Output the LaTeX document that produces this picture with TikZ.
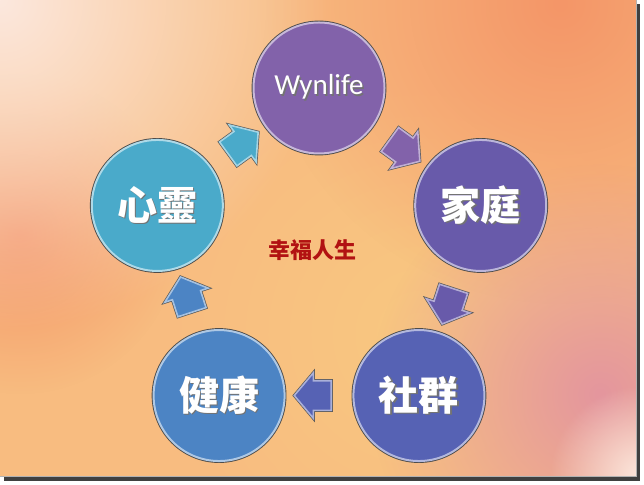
\documentclass[tikz,border=0pt]{standalone}
\usepackage{fontspec}
\setmainfont{Carlito}
\newfontfamily\cjk{Noto Sans CJK TC}
\usetikzlibrary{shapes,arrows,positioning,calc,shadings,fadings}
\usepackage{xcolor}

\definecolor{wynpurple}{RGB}{130,98,170}
\definecolor{familyviolet}{RGB}{104,90,170}
\definecolor{groupblue}{RGB}{86,98,180}
\definecolor{healthblue}{RGB}{76,132,196}
\definecolor{spiritteal}{RGB}{74,170,202}
\definecolor{titlered}{RGB}{178,18,18}
\definecolor{bgbase}{RGB}{248,188,128}
\definecolor{bgpale}{RGB}{252,232,222}
\definecolor{bgorange}{RGB}{244,150,104}
\definecolor{bgpink}{RGB}{228,150,158}
\definecolor{bgyellow}{RGB}{249,200,128}

\tikzfading[name=softspot, inner color=transparent!0, outer color=transparent!100]

% white text with a soft drop shadow
\newcommand{\shadowed}[1]{\rlap{\kern1.5pt\raisebox{-1.5pt}{\color{black!55}#1}}#1}

\begin{document}
\begin{tikzpicture}[
  x=1pt, y=1pt,
  ball/.style={circle, minimum size=131pt, inner sep=0pt, text=white,
    draw=white!55!#1, fill=#1, line width=2pt,
    preaction={draw=black!70, line width=3.8pt},
    font=\cjk\bfseries\fontsize{40}{44}\selectfont},
  blockarrow/.style={single arrow, fill=#1, draw=white!50!#1, line width=1.6pt,
    preaction={draw=black!65, line width=3pt},
    inner xsep=1pt, inner ysep=14pt, minimum height=37pt,
    single arrow head extend=8pt, single arrow tip angle=100},
  spot/.style={fill=#1, path fading=softspot}
]
  \useasboundingbox (0,0) rectangle (644,484);
  \fill[white] (0,0) rectangle (644,484);
  % frame shadow and background
  \fill[black!75] (4,3) rectangle (640,480);
  \begin{scope}
    \clip (0,8) rectangle (636,484);
    \fill[bgbase] (0,8) rectangle (636,484);
    \fill[spot=bgyellow] (420,150) circle (260);
    \fill[spot=bgorange] (560,480) circle (300);
    \fill[spot=bgorange] (20,250) circle (160);
    \fill[spot=bgpink] (600,90) circle (230);
    \fill[spot=bgpale] (0,484) circle (330);
    \fill[spot=bgpale] (640,8) circle (90);
  \end{scope}
  \draw[black!30, line width=0.8pt] (636,484) -- (636,8) -- (0,8);

  \coordinate (mid) at (319,226);

  \foreach \name/\txt/\col/\ang in {
      wyn/{\rmfamily\mdseries\fontsize{29}{32}\selectfont Wynlife}/wynpurple/90,
      family/家庭/familyviolet/18,
      group/社群/groupblue/-54,
      health/健康/healthblue/-126,
      spirit/心靈/spiritteal/162}
    \node[ball=\col] (\name) at ($(mid)+(\ang:170)$) {\shadowed{\txt}};

  \foreach \from/\to/\col/\dir in {
      spirit/wyn/spiritteal/36,
      wyn/family/wynpurple/-36,
      family/group/familyviolet/-108,
      group/health/groupblue/180,
      health/spirit/healthblue/108}
    \node[blockarrow=\col, rotate=\dir] (\from-\to) at ($(\from)!0.5!(\to)$) {};

  \node[text=titlered, font=\cjk\bfseries\fontsize{22}{24}\selectfont] (title) at (312,234) {幸福人生};
\end{tikzpicture}
\end{document}
